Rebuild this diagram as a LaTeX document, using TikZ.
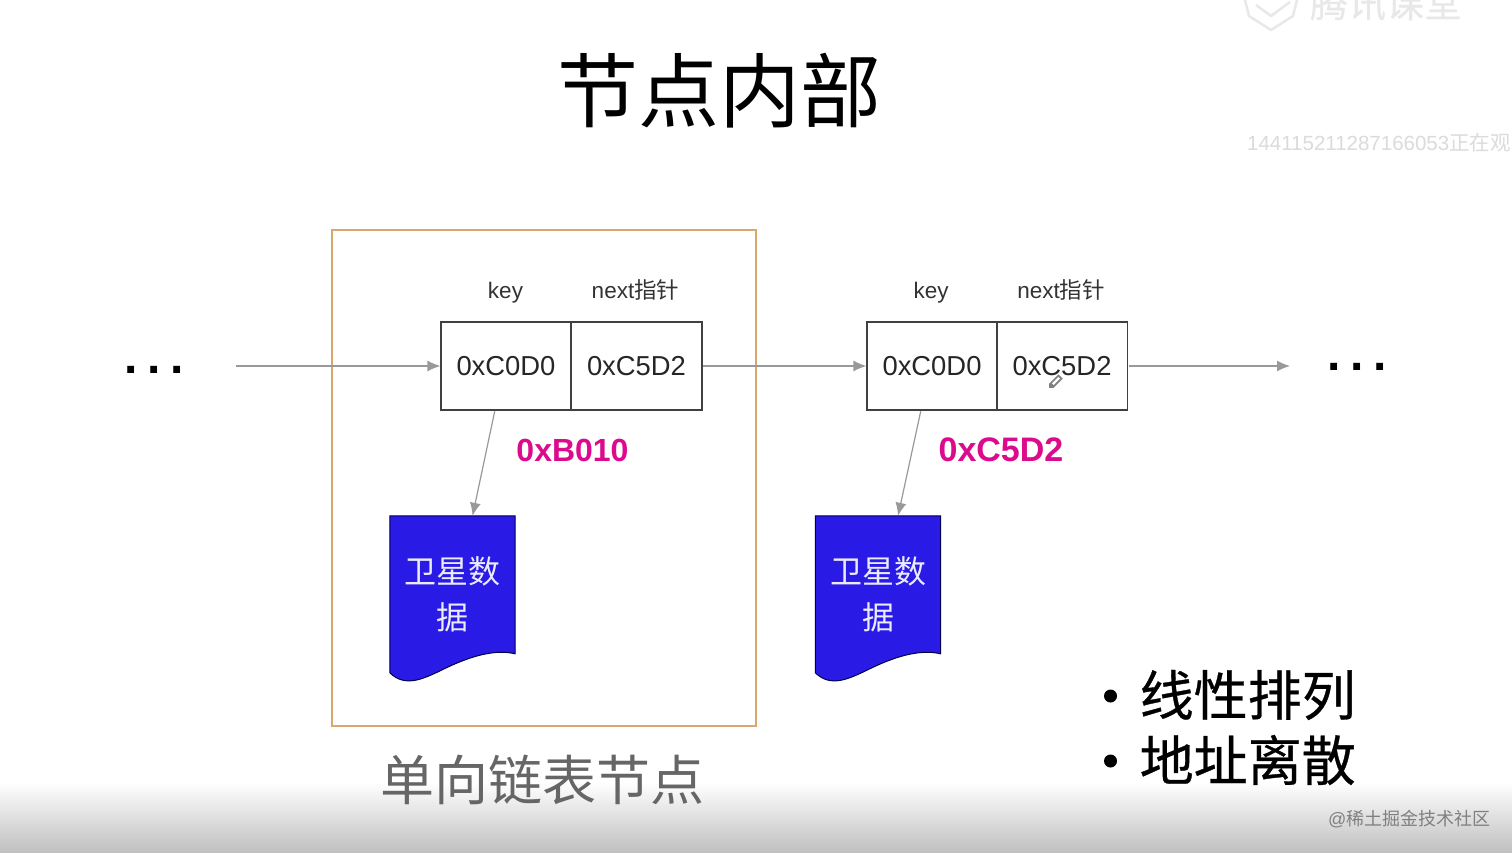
\documentclass[tikz,border=0pt]{standalone}
\usepackage{fontspec}
\setmainfont{Liberation Sans}
\newfontfamily\cjk{Noto Sans CJK SC}
\usetikzlibrary{calc,arrows.meta}
\definecolor{boxtan}{HTML}{D9A76C}
\definecolor{docblue}{HTML}{2A1AE6}
\definecolor{addrpink}{HTML}{DC0A8C}
\definecolor{linkgray}{HTML}{999999}
\tikzset{
  cell/.style={draw=black!75,line width=1.2pt,minimum width=130pt,minimum height=88pt,inner sep=0pt,font=\fontsize{27.4}{30}\selectfont,text=black!85},
  head/.style={inner sep=0pt,anchor=base,font=\fontsize{22.5}{26}\selectfont,text=black!80},
  link/.style={draw=linkgray,line width=1.2pt,shorten <=0.7pt,-{Latex[length=13pt,width=11pt]}},
  addr/.style={inner sep=0pt,text=addrpink,font=\fontsize{32}{36}\bfseries\selectfont},
  docbox/.style={inner sep=0pt,minimum width=125pt,minimum height=166pt},
  doctext/.style={inner sep=0pt,align=center,text=white!92!blue,font=\cjk\fontsize{32}{46}\selectfont},
  dots/.style={inner sep=0pt,anchor=base,font=\fontsize{48}{52}\bfseries\selectfont},
  bullet/.style={inner sep=0pt,anchor=west,font=\cjk\fontsize{54}{60}\selectfont\addfontfeature{FakeBold=0.6}},
}
\newcommand{\docshape}[1]{%
  \path[draw=black!70!blue,line width=1pt,fill=docblue]
    (#1.north west) -- (#1.north east) -- ($(#1.north east)+(0,138)$)
    .. controls ($(#1.north east)+(-25,132)$) and ($(#1.north east)+(-55,145)$) .. ($(#1.north east)+(-75,155)$)
    .. controls ($(#1.north east)+(-92,163)$) and ($(#1.north east)+(-110,172)$) .. ($(#1.north west)+(0,157)$)
    -- cycle;}
\begin{document}
\begin{tikzpicture}[x=1pt,y=-1pt]
\useasboundingbox (0,0) rectangle (1512,853);
\clip (0,0) rectangle (1512,853);
\fill[white] (0,0) rectangle (1512,853);
\shade[top color=white,bottom color=black!25] (0,782) rectangle (1512,853);

% title
\node[inner sep=0pt,font=\cjk\fontsize{81}{84}\selectfont] (title) at (719,91) {节点内部};

% faint overlays
\node[inner sep=0pt,text=black!9,font=\cjk\fontsize{38}{40}\selectfont\addfontfeature{FakeBold=0.5}] (brand) at (1386,3) {腾讯课堂};
\draw[black!9,line width=2.5pt,line join=round] (1245,0) -- (1249,16) -- (1271,30) -- (1293,16) -- (1297,0);
\draw[black!9,line width=2.5pt,line join=round] (1256,5) -- (1271,16) -- (1290,2);
\node[inner sep=0pt,anchor=east,text=black!14,font=\fontsize{20.5}{24}\selectfont] (viewer) at (1511,143) {144115211287166053{\cjk 正在观}};

% frame
\node[draw=boxtan,line width=2pt,minimum width=424pt,minimum height=496pt,inner sep=0pt] (frame) at (544,478) {};
\node[inner sep=0pt,text=black!60,font=\cjk\fontsize{54}{60}\selectfont] (caption) at (542,780) {单向链表节点};

% first entry
\node[cell] (k1) at (506,366) {0xC0D0};
\node[cell,minimum width=131pt] (n1) at (636.5,366) {0xC5D2};
\node[head] (kh1) at (505.5,298) {key};
\node[head] (nh1) at (635.5,298) {next{\cjk 指针}};
\node[addr] (a1) at (572.5,450) {0xB010};
\node[docbox] (d1) at (452.5,599) {};
\docshape{d1}
\node[doctext] (t1) at (452.5,594) {卫星数\\据};

% second entry
\node[cell] (k2) at (932,366) {0xC0D0};
\node[cell,minimum width=131pt] (n2) at (1062,366) {0xC5D2};
\node[head] (kh2) at (931,298) {key};
\node[head] (nh2) at (1061,298) {next{\cjk 指针}};
\node[addr,font=\fontsize{34}{38}\bfseries\selectfont] (a2) at (1001,450) {0xC5D2};
\node[docbox] (d2) at (878,599) {};
\docshape{d2}
\node[doctext] (t2) at (878,594) {卫星数\\据};

% dots
\node[dots] (dl) at (154,373.5) {.\hspace{9.7pt}.\hspace{9.7pt}.};
\node[dots] (dr) at (1357,370.5) {.\hspace{9.7pt}.\hspace{9.7pt}.};
\coordinate (startl) at (235,366);
\coordinate (endr) at (1290,366);

% links
\draw[link] (startl) -- (k1.west);
\draw[link] (n1.east) -- (k2.west);
\draw[link] (n2.east) -- (endr);
\draw[link] ($(k1.south west)!0.415!(k1.south east)$) -- ($(d1.north west)!0.66!(d1.north east)$);
\draw[link] ($(k2.south west)!0.415!(k2.south east)$) -- ($(d2.north west)!0.66!(d2.north east)$);

% pen cursor
\fill[black!50,rotate around={45:(1057,380)}] (1049,377) -- (1062,377) -- (1062,383) -- (1049,383) -- (1046,380) -- cycle;
\fill[white,rotate around={45:(1057,380)}] (1051,378.8) rectangle (1060,381.2);

% bullets
\fill (1110.5,696) circle (6.5);
\fill (1110.5,761) circle (6.5);
\node[bullet] (b1) at (1139.5,695) {线性排列};
\node[bullet] (b2) at (1139.5,760) {地址离散};

% bottom watermark
\node[inner sep=0pt,anchor=west,text=black!50,font=\fontsize{18}{22}\selectfont] (wm) at (1328,819) {@{\cjk 稀土掘金技术社区}};
\end{tikzpicture}
\end{document}
